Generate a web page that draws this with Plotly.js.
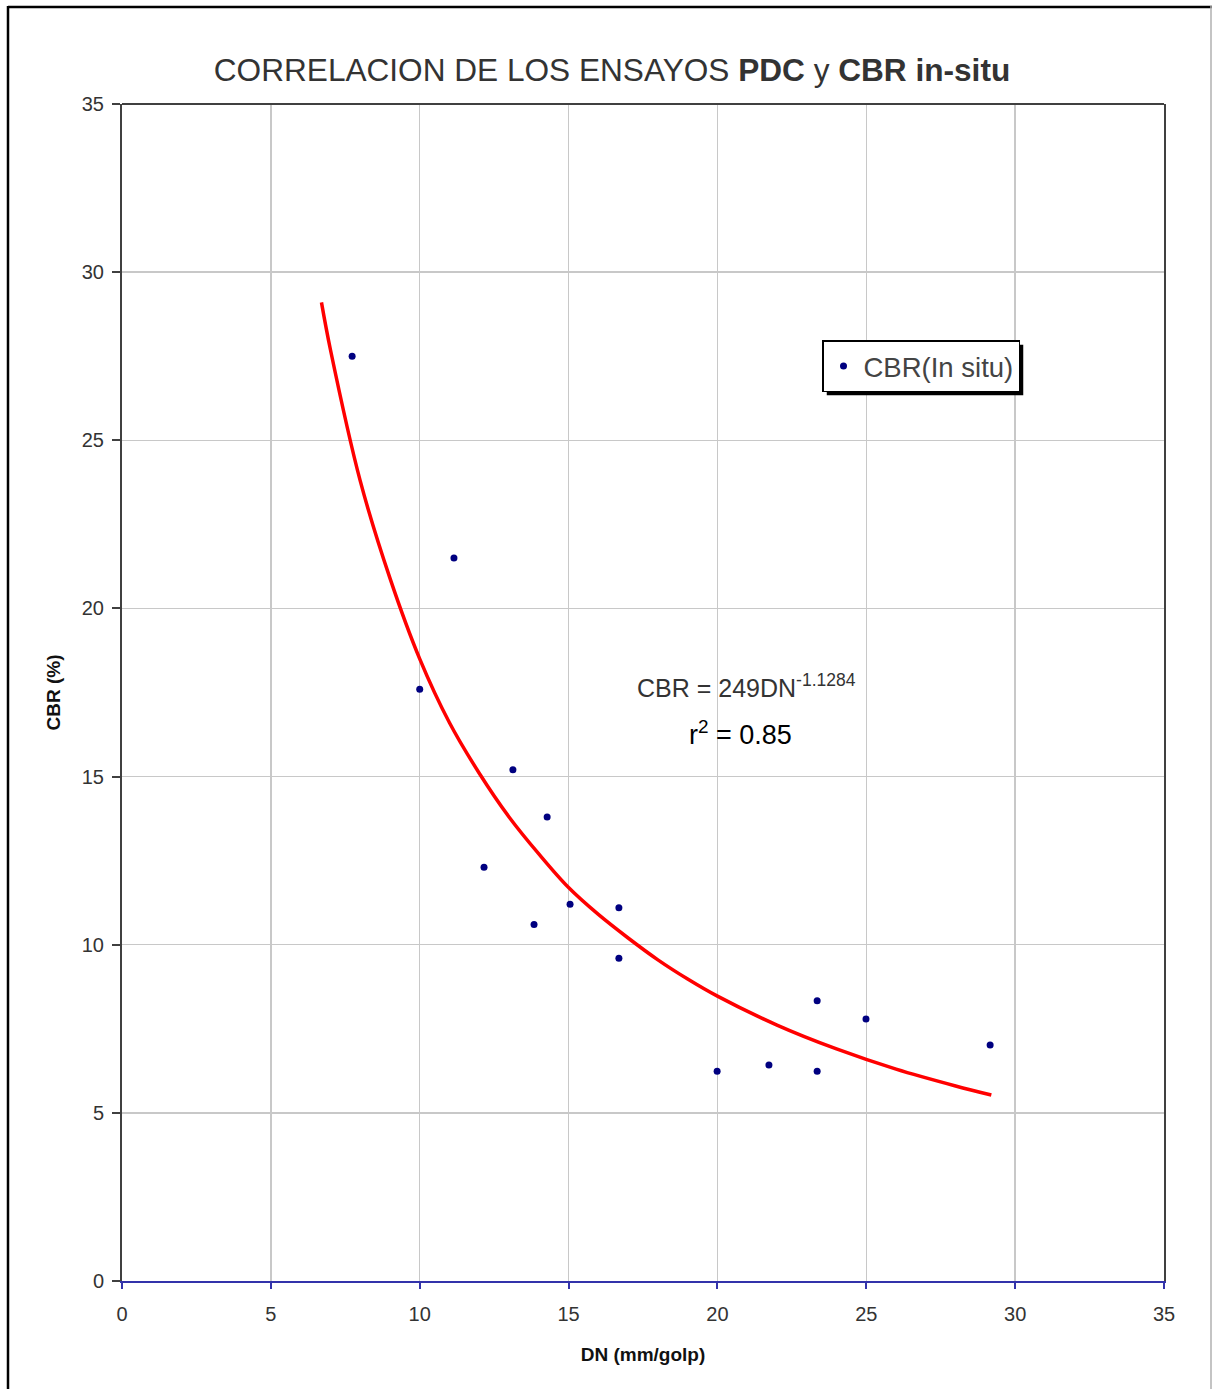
<!DOCTYPE html>
<html>
<head>
<meta charset="utf-8">
<script src="https://cdn.plot.ly/plotly-3.0.1.min.js"></script>
<style>html,body{margin:0;padding:0;background:#fff;}#chart{width:1214px;height:1389px;}</style>
</head>
<body>
<div id="chart"></div>
<script>
// Measured points: DN (mm/golp) vs CBR in-situ (%)
const dnValues  = [7.73, 10.0, 11.15, 12.16, 13.13, 13.84, 14.28, 15.05, 16.69, 16.69, 19.99, 21.73, 23.35, 23.35, 24.99, 29.16];
const cbrValues = [27.5, 17.6, 21.5, 12.3, 15.2, 10.6, 13.8, 11.2, 11.1, 9.6, 6.24, 6.42, 8.33, 6.24, 7.79, 7.02];

// Trend line
const trendX = [6.7, 7, 8, 9, 10, 11, 12, 13, 14, 15, 16, 17, 18, 19, 20, 22, 24, 26, 28, 29.2];
const trendY = [29.1, 27.7, 23.8, 20.9, 18.5, 16.6, 15.1, 13.8, 12.7, 11.7, 10.9, 10.2, 9.55, 8.98, 8.47, 7.61, 6.90, 6.30, 5.80, 5.53];

const xTicks = [0, 5, 10, 15, 20, 25, 30, 35];
const yTicks = [0, 5, 10, 15, 20, 25, 30, 35];

const seriesName = 'CBR(In situ)';
const titleText = 'CORRELACION DE LOS ENSAYOS <b>PDC</b> y <b>CBR in-situ</b>';
const eqText = 'CBR = 249DN<sup>-1.1284</sup>';
const r2Text = 'r<sup>2</sup> = 0.85';

const W = 1214, H = 1389;
const mL = 122, mR = 50, mT = 104, mB = 108;
const pw = W - mL - mR, ph = H - mT - mB;
const px = v => (v - mL) / pw;
const py = v => (H - mB - v) / ph;

const traces = [
  {
    x: trendX, y: trendY, mode: 'lines', type: 'scatter',
    line: {color: '#ff0000', width: 3.5, shape: 'spline'},
    showlegend: false, hoverinfo: 'skip'
  },
  {
    x: dnValues, y: cbrValues, mode: 'markers', type: 'scatter',
    name: seriesName,
    marker: {color: '#000080', size: 7}
  }
];

const layout = {
  width: W, height: H,
  margin: {l: mL, r: mR, t: mT, b: mB},
  paper_bgcolor: '#ffffff', plot_bgcolor: '#ffffff',
  font: {family: 'Liberation Sans, Arial, sans-serif', color: '#333333'},
  title: {
    text: titleText,
    font: {family: 'Liberation Sans, Arial, sans-serif', size: 31.6, color: '#333333'},
    xref: 'container', yref: 'container', x: 612 / W, y: 1 - 70 / H,
    xanchor: 'center', yanchor: 'middle'
  },
  xaxis: {
    range: [0, 35], tickvals: xTicks, ticktext: xTicks.map(String),
    showgrid: true, gridcolor: '#c8c8c8', gridwidth: 1.5,
    zeroline: false,
    showline: true, linecolor: '#3333aa', linewidth: 2,
    ticks: 'outside', ticklen: 6, tickcolor: '#3333aa', tickwidth: 2,
    ticklabelstandoff: 8,
    tickfont: {size: 20, color: '#333333'},
    title: {text: '<b>DN (mm/golp)</b>', font: {size: 19, color: '#111111'}, standoff: 24}
  },
  yaxis: {
    range: [0, 35], tickvals: yTicks, ticktext: yTicks.map(String),
    showgrid: true, gridcolor: '#c8c8c8', gridwidth: 1.5,
    zeroline: false,
    showline: true, mirror: true, linecolor: '#404040', linewidth: 2,
    ticks: 'outside', ticklen: 8, tickcolor: '#404040', tickwidth: 2,
    ticklabelstandoff: 4,
    tickfont: {size: 20, color: '#333333'},
    title: {text: '<b>CBR (%)</b>', font: {size: 19, color: '#111111'}, standoff: 16}
  },
  legend: {
    x: px(822), y: py(340), xanchor: 'left', yanchor: 'top',
    bgcolor: '#ffffff', bordercolor: '#000000', borderwidth: 1.5,
    font: {size: 27.5, color: '#444444'}
  },
  shapes: [
    // top frame line of plot
    {type: 'line', xref: 'paper', yref: 'paper', x0: 0, x1: 1, y0: 1, y1: 1,
     line: {color: '#404040', width: 2}},
    // legend shadow (re-fitted to the drawn legend box below)
    {type: 'rect', xref: 'paper', yref: 'paper', x0: px(826), x1: px(1026), y0: py(345), y1: py(402),
     fillcolor: '#000000', line: {width: 0}, layer: 'above'},
    // outer picture border
    {type: 'line', xref: 'paper', yref: 'paper', x0: px(8), x1: px(8), y0: py(6), y1: py(1389),
     line: {color: '#000000', width: 2.5}},
    {type: 'line', xref: 'paper', yref: 'paper', x0: px(8), x1: px(1212), y0: py(7), y1: py(7),
     line: {color: '#000000', width: 2.5}},
    {type: 'line', xref: 'paper', yref: 'paper', x0: px(1211), x1: px(1211), y0: py(6), y1: py(1389),
     line: {color: '#b0b0b0', width: 1.5}}
  ],
  annotations: [
    {text: eqText, xref: 'paper', yref: 'paper', x: px(746), y: py(686),
     xanchor: 'center', yanchor: 'middle', showarrow: false,
     font: {size: 25, color: '#333333'}},
    {text: r2Text, xref: 'paper', yref: 'paper', x: px(740), y: py(733),
     xanchor: 'center', yanchor: 'middle', showarrow: false,
     font: {size: 27, color: '#000000'}}
  ]
};

Plotly.newPlot('chart', traces, layout, {displayModeBar: false, staticPlot: true}).then(gd => {
  const bg = gd.querySelector('.legend .bg');
  if (!bg) return;
  const r = bg.getBoundingClientRect();
  const c = gd.getBoundingClientRect();
  const L = r.left - c.left, T = r.top - c.top, R = r.right - c.left, B = r.bottom - c.top;
  const off = 4;
  return Plotly.relayout(gd, {
    'shapes[1].x0': px(L + off), 'shapes[1].x1': px(R + off),
    'shapes[1].y0': py(T + off), 'shapes[1].y1': py(B + off)
  });
});
</script>
</body>
</html>
